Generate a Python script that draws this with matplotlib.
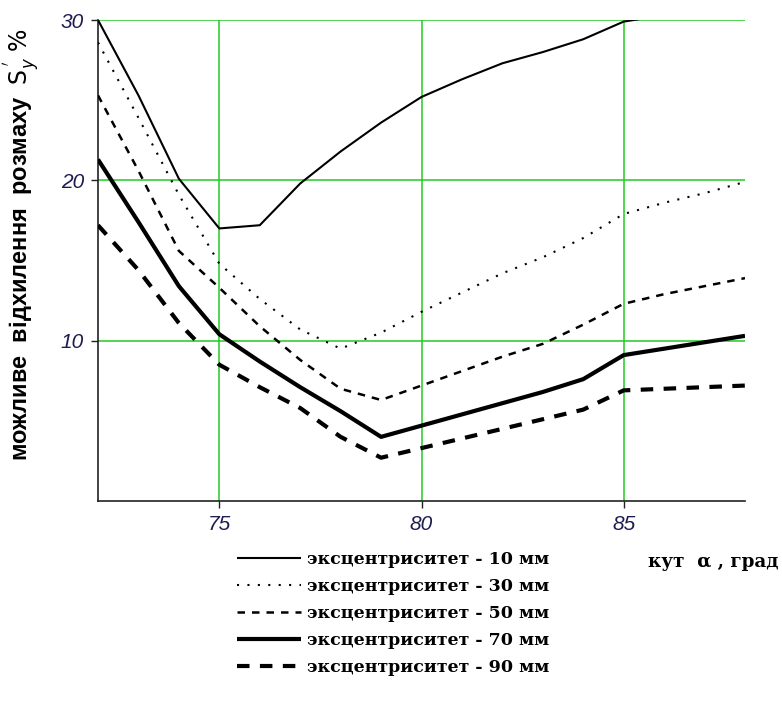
import matplotlib
matplotlib.use("Agg")
import matplotlib.pyplot as plt

angles = [72, 73, 74, 75, 76, 77, 78, 79, 80, 81, 82, 83, 84, 85, 86, 87, 88]
ecc_10 = [30.0, 25.3, 20.1, 17.0, 17.2, 19.8, 21.8, 23.6, 25.2, 26.3, 27.3, 28.0, 28.8, 29.9, 30.3, 30.8, 31.3]
ecc_30 = [28.6, 23.9, 19.1, 14.8, 12.6, 10.7, 9.5, 10.5, 11.8, 13.0, 14.2, 15.2, 16.4, 17.9, 18.6, 19.2, 19.9]
ecc_50 = [25.3, 20.6, 15.6, 13.3, 10.9, 8.8, 7.0, 6.3, 7.2, 8.1, 9.0, 9.8, 11.0, 12.3, 12.9, 13.4, 13.9]
ecc_70 = [21.3, 17.4, 13.4, 10.4, 8.7, 7.1, 5.6, 4.0, 4.7, 5.4, 6.1, 6.8, 7.6, 9.1, 9.5, 9.9, 10.3]
ecc_90 = [17.2, 14.4, 11.1, 8.5, 7.1, 5.8, 4.0, 2.7, 3.3, 3.9, 4.5, 5.1, 5.7, 6.9, 7.0, 7.1, 7.2]

series_labels = ["эксцентриситет - 10 мм", "эксцентриситет - 30 мм", "эксцентриситет - 50 мм",
                 "эксцентриситет - 70 мм", "эксцентриситет - 90 мм"]
x_ticks = [75, 80, 85]
y_ticks = [10, 20, 30]
y_label = "можливе  відхилення  розмаху  $\\mathrm{S}_{y}^{\\,'}$ $\\mathrm{\\%}$"
x_label = "кут  α , град"

styles = [
    dict(lw=1.5, ls="-"),
    dict(lw=1.5, ls=(0, (1, 4))),
    dict(lw=1.8, ls=(0, (3, 2.8))),
    dict(lw=3.0, ls="-"),
    dict(lw=3.0, ls=(0, (3, 2.5))),
]

fig = plt.figure(figsize=(7.82, 7.09), dpi=100)
ax = fig.add_axes([98/782, 1 - 501/709, 647/782, 481/709])

handles = []
for ys, st, lab in zip([ecc_10, ecc_30, ecc_50, ecc_70, ecc_90], styles, series_labels):
    ln, = ax.plot(angles, ys, color="black", linewidth=st["lw"], linestyle=st["ls"],
                  solid_capstyle="butt", dash_capstyle="butt", label=lab, zorder=3)
    handles.append(ln)

ax.set_xlim(72, 88)
ax.set_ylim(0, 30)
ax.set_xticks(x_ticks)
ax.set_yticks(y_ticks)
ax.grid(True, color="#22cc22", linewidth=1.1, zorder=1)
for s in ["top", "right"]:
    ax.spines[s].set_visible(False)
for s in ["left", "bottom"]:
    ax.spines[s].set_color("#222222")
    ax.spines[s].set_linewidth(1.2)
ax.tick_params(direction="out", length=5, width=1, color="#222222",
               labelsize=15, labelcolor="#1c1c50", pad=5)
for t in ax.get_xticklabels() + ax.get_yticklabels():
    t.set_fontstyle("italic")
    t.set_fontfamily("Liberation Sans")

fig.text(22/782, 1 - 245/709, y_label, rotation=90, ha="center", va="center",
         fontsize=17, fontweight="bold", family="Liberation Sans")

fig.text(648/782, 1 - 562/709, x_label, ha="left", va="center",
         fontsize=13.2, fontweight="bold", family="DejaVu Serif")

leg = fig.legend(handles=handles, loc="upper left", bbox_to_anchor=(237/782, 1 - 551/709),
                 frameon=False, handlelength=3.7, handletextpad=0.35, labelspacing=0.58,
                 borderaxespad=0, borderpad=0,
                 prop=dict(family="DejaVu Serif", weight="bold", size=12.5))

fig.savefig("out.png", dpi=100)
